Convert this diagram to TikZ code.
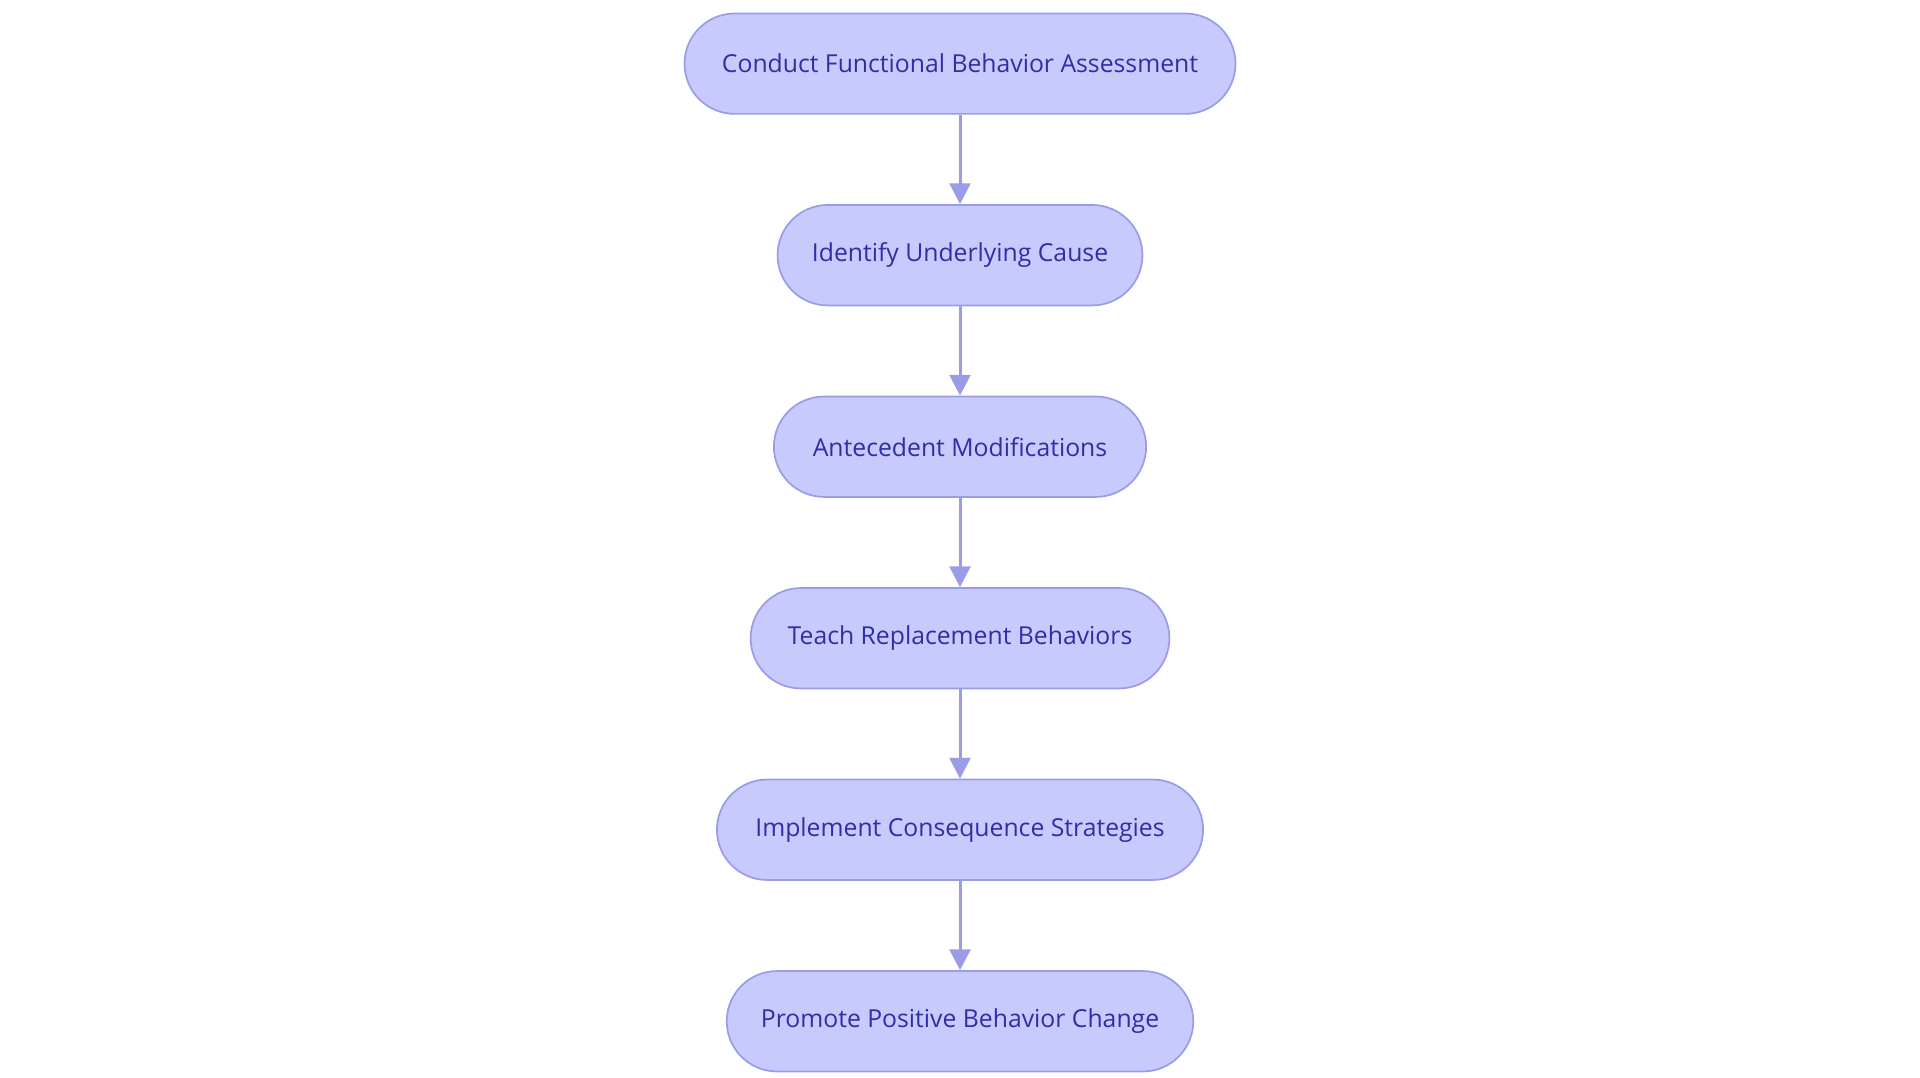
\documentclass[tikz,border=0pt]{standalone}
\usepackage{fontspec}
\setmainfont{Open Sans}
\usetikzlibrary{positioning,arrows.meta}
\definecolor{stepfill}{HTML}{C8CAFD}
\definecolor{stepdraw}{HTML}{9A9CE8}
\definecolor{steptext}{HTML}{2E2EA8}
\tikzset{
  stage/.style={draw=stepdraw, fill=stepfill, text=steptext, line width=0.8pt,
    rounded corners=0.82cm, minimum height=1.64cm, font=\fontsize{11.5}{13}\selectfont},
  link/.style={draw=stepdraw, line width=1.4pt, -{Triangle[length=0.34cm,width=0.34cm]}}
}
\begin{document}
\begin{tikzpicture}[node distance=1.46cm]
        \useasboundingbox (0,0) rectangle (31.36,-17.6);
        \node[stage, minimum width=9cm] (fba) at (15.68,-1.04) {Conduct Functional Behavior Assessment};
        \node[stage, minimum width=5.96cm, below=of fba] (cause) {Identify Underlying Cause};
        \node[stage, minimum width=6.08cm, below=of cause] (antec) {Antecedent Modifications};
        \node[stage, minimum width=6.84cm, below=of antec] (teach) {Teach Replacement Behaviors};
        \node[stage, minimum width=7.94cm, below=of teach] (conseq) {Implement Consequence Strategies};
        \node[stage, minimum width=7.62cm, below=of conseq] (promote) {Promote Positive Behavior Change};
        %links
        \draw[link] (fba) -- (cause);
        \draw[link] (cause) -- (antec);
        \draw[link] (antec) -- (teach);
        \draw[link] (teach) -- (conseq);
        \draw[link] (conseq) -- (promote);
\end{tikzpicture}
\end{document}
